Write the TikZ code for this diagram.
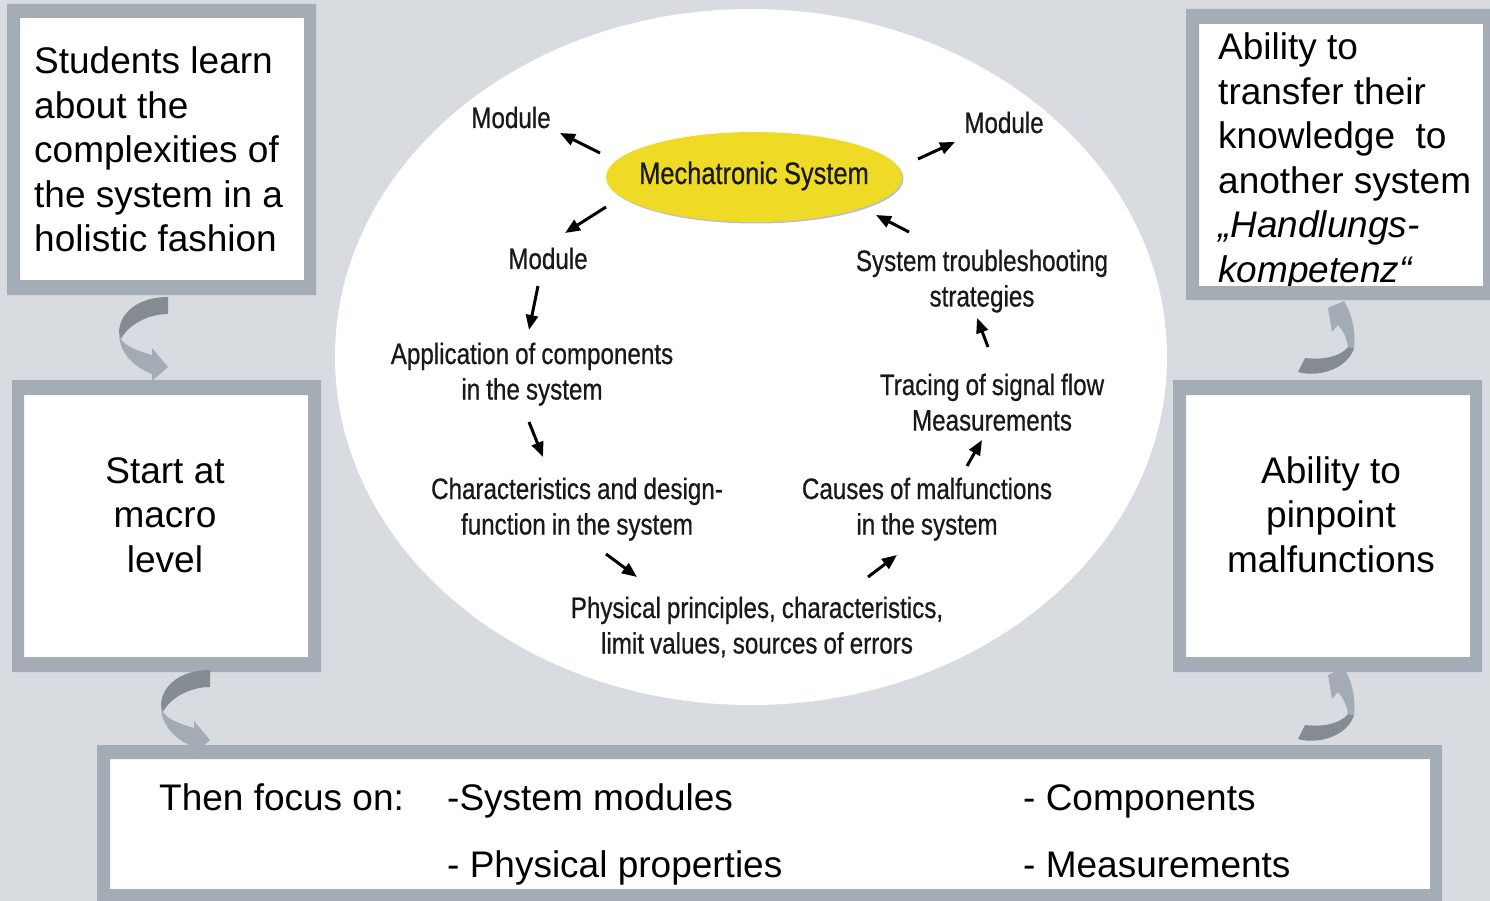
\documentclass[tikz,border=0pt]{standalone}
\usepackage{fontspec}
\setmainfont{Liberation Sans}
\newfontfamily\narrowfont[FakeStretch=0.82,FakeBold=0.6,WordSpace=0.9]{Liberation Sans}
\usetikzlibrary{arrows.meta}
\definecolor{bg}{RGB}{216,219,224}
\definecolor{frame}{RGB}{164,173,181}
\definecolor{ribdark}{RGB}{132,139,147}
\definecolor{riblight}{RGB}{163,172,181}
\definecolor{mechyellow}{RGB}{239,219,38}
\begin{document}
\begin{tikzpicture}[x=1pt,y=-1pt,
  boxtext/.style={font=\fontsize{37}{44.5}\selectfont, inner sep=0pt, text width=290pt},
  innertext/.style={font=\narrowfont\fontsize{29.5}{35.5}\selectfont, text=black!90, inner sep=0pt, text width=420pt, align=flush center, anchor=base},
  arr/.style={line width=3pt, -{Triangle[length=15pt,width=12pt]}},
  framefill/.style={fill=frame, even odd rule},
  leftrib/.pic={
    \fill[ribdark] (0,0) .. controls (-30,0) and (-49,16) .. (-49,36) -- (-47,42) .. controls (-40,28) and (-20,17) .. (0,17) -- cycle;
    \fill[riblight] (-49,36) .. controls (-49,56) and (-34,70) .. (-16,77) -- (-16,84) -- (0,70) -- (-16,51) -- (-16,58) .. controls (-30,54) and (-43,49) .. (-47,42) -- cycle;
  },
  rightrib/.pic={
    \fill[ribdark] (0,0) -- (7,-14) .. controls (25,-12) and (42,-15) .. (50,-25) -- (56,-24) .. controls (50,-4) and (22,6) .. (0,0) -- cycle;
    \fill[riblight] (56,-24) .. controls (58,-40) and (54,-58) .. (46,-71) -- (30,-64) -- (34,-40) -- (40,-47) .. controls (46,-40) and (49,-33) .. (50,-25) -- cycle;
  }
]
\useasboundingbox (0,0) rectangle (1490,901);
\fill[bg] (0,0) rectangle (1490,901);

% central ellipse
\fill[white] (751,357) ellipse [x radius=416, y radius=348];

% white box interiors
\fill[white] (20,18) rectangle (304,280);
\fill[white] (24,395) rectangle (308,657);
\fill[white] (1199,24) rectangle (1483,286);
\fill[white] (1186,395) rectangle (1470,657);
\fill[white] (110,759) rectangle (1430,889);

% box texts
\node[boxtext, align=flush left, anchor=base west] (t1) at (34,74) {Students learn\\about the\\complexities of\\the system in a\\holistic fashion};
\node[boxtext, align=flush center, anchor=base] (t2) at (165,483) {Start at\\macro\\level};
\node[boxtext, align=flush left, anchor=base west] (t3) at (1218,60) {Ability to\\transfer their\\knowledge\ \ to\\another system\\{\itshape „Handlungs-}\\{\itshape kompetenz“}};
\node[boxtext, align=flush center, anchor=base] (t4) at (1331,483) {Ability to\\pinpoint\\malfunctions};
\node[font=\fontsize{37}{44.5}\selectfont, inner sep=0pt, anchor=base west] (f0) at (159,810) {Then focus on:};
\node[font=\fontsize{37}{44.5}\selectfont, inner sep=0pt, anchor=base west] (f1) at (447,810) {-System modules};
\node[font=\fontsize{37}{44.5}\selectfont, inner sep=0pt, anchor=base west] (f2) at (1023,810) {- Components};
\node[font=\fontsize{37}{44.5}\selectfont, inner sep=0pt, anchor=base west] (f3) at (447,877) {- Physical properties};
\node[font=\fontsize{37}{44.5}\selectfont, inner sep=0pt, anchor=base west] (f4) at (1023,877) {- Measurements};

% frames
\fill[framefill] (7,4) rectangle (316,295) (20,18) rectangle (304,280);
\fill[framefill] (12,380) rectangle (321,672) (24,395) rectangle (308,657);
\fill[framefill] (1186,9) rectangle (1492,300) (1199,24) rectangle (1483,286);
\fill[framefill] (1173,380) rectangle (1482,672) (1186,395) rectangle (1470,657);
\fill[framefill] (97,745) rectangle (1442,903) (110,759) rectangle (1430,889);

% ribbon arrows
\pic at (168,297) {leftrib};
\pic at (210,670) {leftrib};
\pic at (1298,372) {rightrib};
\pic at (1298,739) {rightrib};

% Mechatronic system
\fill[gray!50] (755.5,178.5) ellipse [x radius=148, y radius=45];
\fill[mechyellow] (754,177) ellipse [x radius=148, y radius=45];
\node[inner sep=0pt, anchor=base, text=black!90,
      font=\narrowfont\fontsize{31}{36}\selectfont] (mech) at (754,184) {Mechatronic System};

% inner texts
\node[innertext] (modTL) at (511,128) {Module};
\node[innertext] (modTR) at (1004,133) {Module};
\node[innertext] (modM) at (548,269) {Module};
\node[innertext] (app) at (532,364) {Application of components\\in the system};
\node[innertext] (char) at (577,499) {Characteristics and design-\\function in the system};
\node[innertext] (phys) at (757,618) {Physical principles, characteristics,\\limit values, sources of errors};
\node[innertext] (cause) at (927,499) {Causes of malfunctions\\in the system};
\node[innertext] (trace) at (992,395) {Tracing of signal flow\\Measurements};
\node[innertext] (trouble) at (982,271) {System troubleshooting\\strategies};

% arrow end points
\coordinate (a1s) at (600,153); \coordinate (a1e) at (560,133);
\coordinate (a2s) at (918,159); \coordinate (a2e) at (955,142);
\coordinate (a3s) at (606,207); \coordinate (a3e) at (565,233);
\coordinate (a4s) at (538,286); \coordinate (a4e) at (529,330);
\coordinate (a5s) at (529,422); \coordinate (a5e) at (543,457);
\coordinate (a6s) at (606,554); \coordinate (a6e) at (637,577);
\coordinate (a7s) at (868,577); \coordinate (a7e) at (897,555);
\coordinate (a8s) at (967,466); \coordinate (a8e) at (982,440);
\coordinate (a9s) at (988,347); \coordinate (a9e) at (977,318);
\coordinate (a10s) at (909,232); \coordinate (a10e) at (876,215);
\foreach \i in {1,...,10} \draw[arr] (a\i s) -- (a\i e);
\end{tikzpicture}
\end{document}
